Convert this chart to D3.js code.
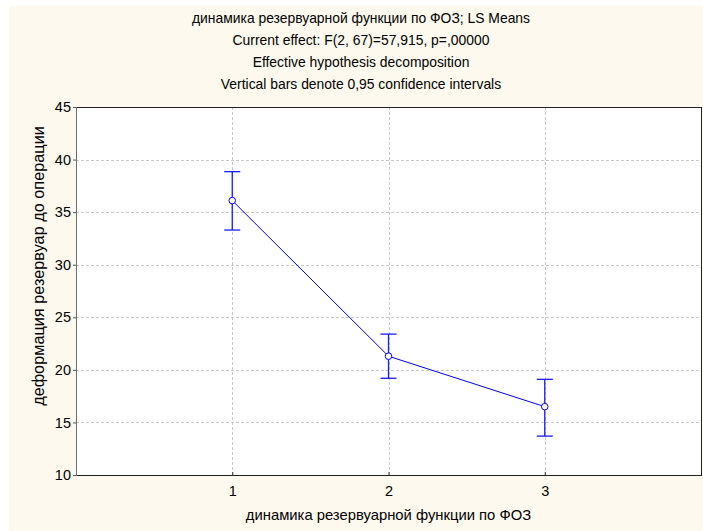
<!DOCTYPE html>
<html>
<head>
<meta charset="utf-8">
<script src="https://cdn.jsdelivr.net/npm/d3@7"></script>
<style>
  html, body { margin: 0; padding: 0; background: #ffffff; }
  svg { display: block; }
  text { font-family: "Liberation Sans", Arial, sans-serif; fill: #000; }
</style>
</head>
<body>
<svg id="chart" width="703" height="531"></svg>
<script>
// LS means of deformation by reservoir-function group, with 95% CIs
const categories = [1, 2, 3];
const means = [36.1, 21.3, 16.5];
const lower = [33.3, 19.2, 13.7];
const upper = [38.85, 23.4, 19.1];
const yTicks = [10, 15, 20, 25, 30, 35, 40, 45];
const titleLines = [
  "динамика резервуарной функции по ФОЗ; LS Means",
  "Current effect: F(2, 67)=57,915, p=,00000",
  "Effective hypothesis decomposition",
  "Vertical bars denote 0,95 confidence intervals"
];
const xTitle = "динамика резервуарной функции по ФОЗ";
const yTitle = "деформация резервуар до операции";

const svg = d3.select("#chart");
const W = 703, H = 531;
const plot = { left: 76, top: 107, right: 701, bottom: 475 };

// cream page background
svg.append("rect").attr("x", 9).attr("y", 6).attr("width", W - 9).attr("height", H - 6)
  .attr("fill", "#fef9ee");

// plot area
svg.append("rect").attr("x", plot.left).attr("y", plot.top)
  .attr("width", plot.right - plot.left).attr("height", plot.bottom - plot.top)
  .attr("fill", "#ffffff");

const x = d3.scaleLinear().domain([0, 4]).range([plot.left, plot.right]);
const y = d3.scaleLinear().domain([10, 45]).range([plot.bottom, plot.top]);

// grid
const grid = svg.append("g").attr("stroke", "#c8c8c8").attr("stroke-width", 1)
  .attr("stroke-dasharray", "3,2").attr("shape-rendering", "crispEdges");
grid.selectAll("line.h").data(yTicks.filter(v => v > 10 && v < 45)).join("line")
  .attr("x1", plot.left).attr("x2", plot.right)
  .attr("y1", d => Math.round(y(d)) + 0.5).attr("y2", d => Math.round(y(d)) + 0.5);
grid.selectAll("line.v").data(categories).join("line")
  .attr("y1", plot.top).attr("y2", plot.bottom)
  .attr("x1", d => Math.round(x(d)) + 0.5).attr("x2", d => Math.round(x(d)) + 0.5);

// axes
const yAxis = d3.axisLeft(y).tickValues(yTicks).tickSize(3).tickPadding(2);
const gy = svg.append("g").attr("transform", `translate(${plot.left},0)`).call(yAxis);
gy.select(".domain").remove();
gy.selectAll(".tick line").attr("stroke", "#555");
gy.selectAll(".tick text").attr("font-size", 14.5).attr("font-family", "Liberation Sans, Arial, sans-serif").attr("fill", "#000");

const xAxis = d3.axisBottom(x).tickValues(categories).tickSize(0).tickPadding(11).tickFormat(d3.format("d"));
const gx = svg.append("g").attr("transform", `translate(0,${plot.bottom})`).call(xAxis);
gx.select(".domain").remove();
gx.selectAll(".tick text").attr("font-size", 14.5).attr("font-family", "Liberation Sans, Arial, sans-serif").attr("fill", "#000");
gx.selectAll(".tick").append("line").attr("y1", 0).attr("y2", -3).attr("stroke", "#333");

// frame
const frame = svg.append("g").attr("shape-rendering", "crispEdges");
frame.append("line").attr("x1", plot.left).attr("x2", plot.right).attr("y1", plot.top + 0.5).attr("y2", plot.top + 0.5).attr("stroke", "#222");
frame.append("line").attr("x1", plot.left).attr("x2", plot.right + 1).attr("y1", plot.bottom + 0.5).attr("y2", plot.bottom + 0.5).attr("stroke", "#222").attr("stroke-width", 1.5);
frame.append("line").attr("x1", plot.right + 0.5).attr("x2", plot.right + 0.5).attr("y1", plot.top).attr("y2", plot.bottom).attr("stroke", "#222").attr("stroke-width", 1.5);
frame.append("line").attr("x1", plot.left + 0.5).attr("x2", plot.left + 0.5).attr("y1", plot.top).attr("y2", plot.bottom + 1).attr("stroke", "#6e6e6e").attr("stroke-width", 1.5);

// error bars
const blue = "#1a1aff";
const eb = svg.append("g").attr("stroke", blue).attr("stroke-width", 1.3);
const rows = categories.map((c, i) => ({ c, m: means[i], lo: lower[i], hi: upper[i] }));
eb.selectAll("line.bar").data(rows).join("line")
  .attr("x1", d => x(d.c)).attr("x2", d => x(d.c))
  .attr("y1", d => y(d.lo)).attr("y2", d => y(d.hi));
eb.selectAll("line.capHi").data(rows).join("line")
  .attr("x1", d => x(d.c) - 8).attr("x2", d => x(d.c) + 8)
  .attr("y1", d => y(d.hi)).attr("y2", d => y(d.hi));
eb.selectAll("line.capLo").data(rows).join("line")
  .attr("x1", d => x(d.c) - 8).attr("x2", d => x(d.c) + 8)
  .attr("y1", d => y(d.lo)).attr("y2", d => y(d.lo));

// mean line and markers
svg.append("path").datum(rows)
  .attr("fill", "none").attr("stroke", "#0000ff").attr("stroke-width", 1)
  .attr("d", d3.line().x(d => x(d.c)).y(d => y(d.m)));
svg.selectAll("circle.pt").data(rows).join("circle")
  .attr("cx", d => x(d.c)).attr("cy", d => y(d.m)).attr("r", 3.3)
  .attr("fill", "#ffffff").attr("stroke", "#0000ff").attr("stroke-width", 1);

// titles
svg.append("g").selectAll("text").data(titleLines).join("text")
  .attr("x", 361).attr("y", (d, i) => 23 + i * 22)
  .attr("text-anchor", "middle").attr("font-size", 13.9).text(d => d);

svg.append("text").attr("x", (plot.left + plot.right) / 2).attr("y", 520)
  .attr("text-anchor", "middle").attr("font-size", 14.8).text(xTitle);

svg.append("text").attr("transform", "translate(44,266) rotate(-90)")
  .attr("text-anchor", "middle").attr("font-size", 16.3).text(yTitle);
</script>
</body>
</html>
